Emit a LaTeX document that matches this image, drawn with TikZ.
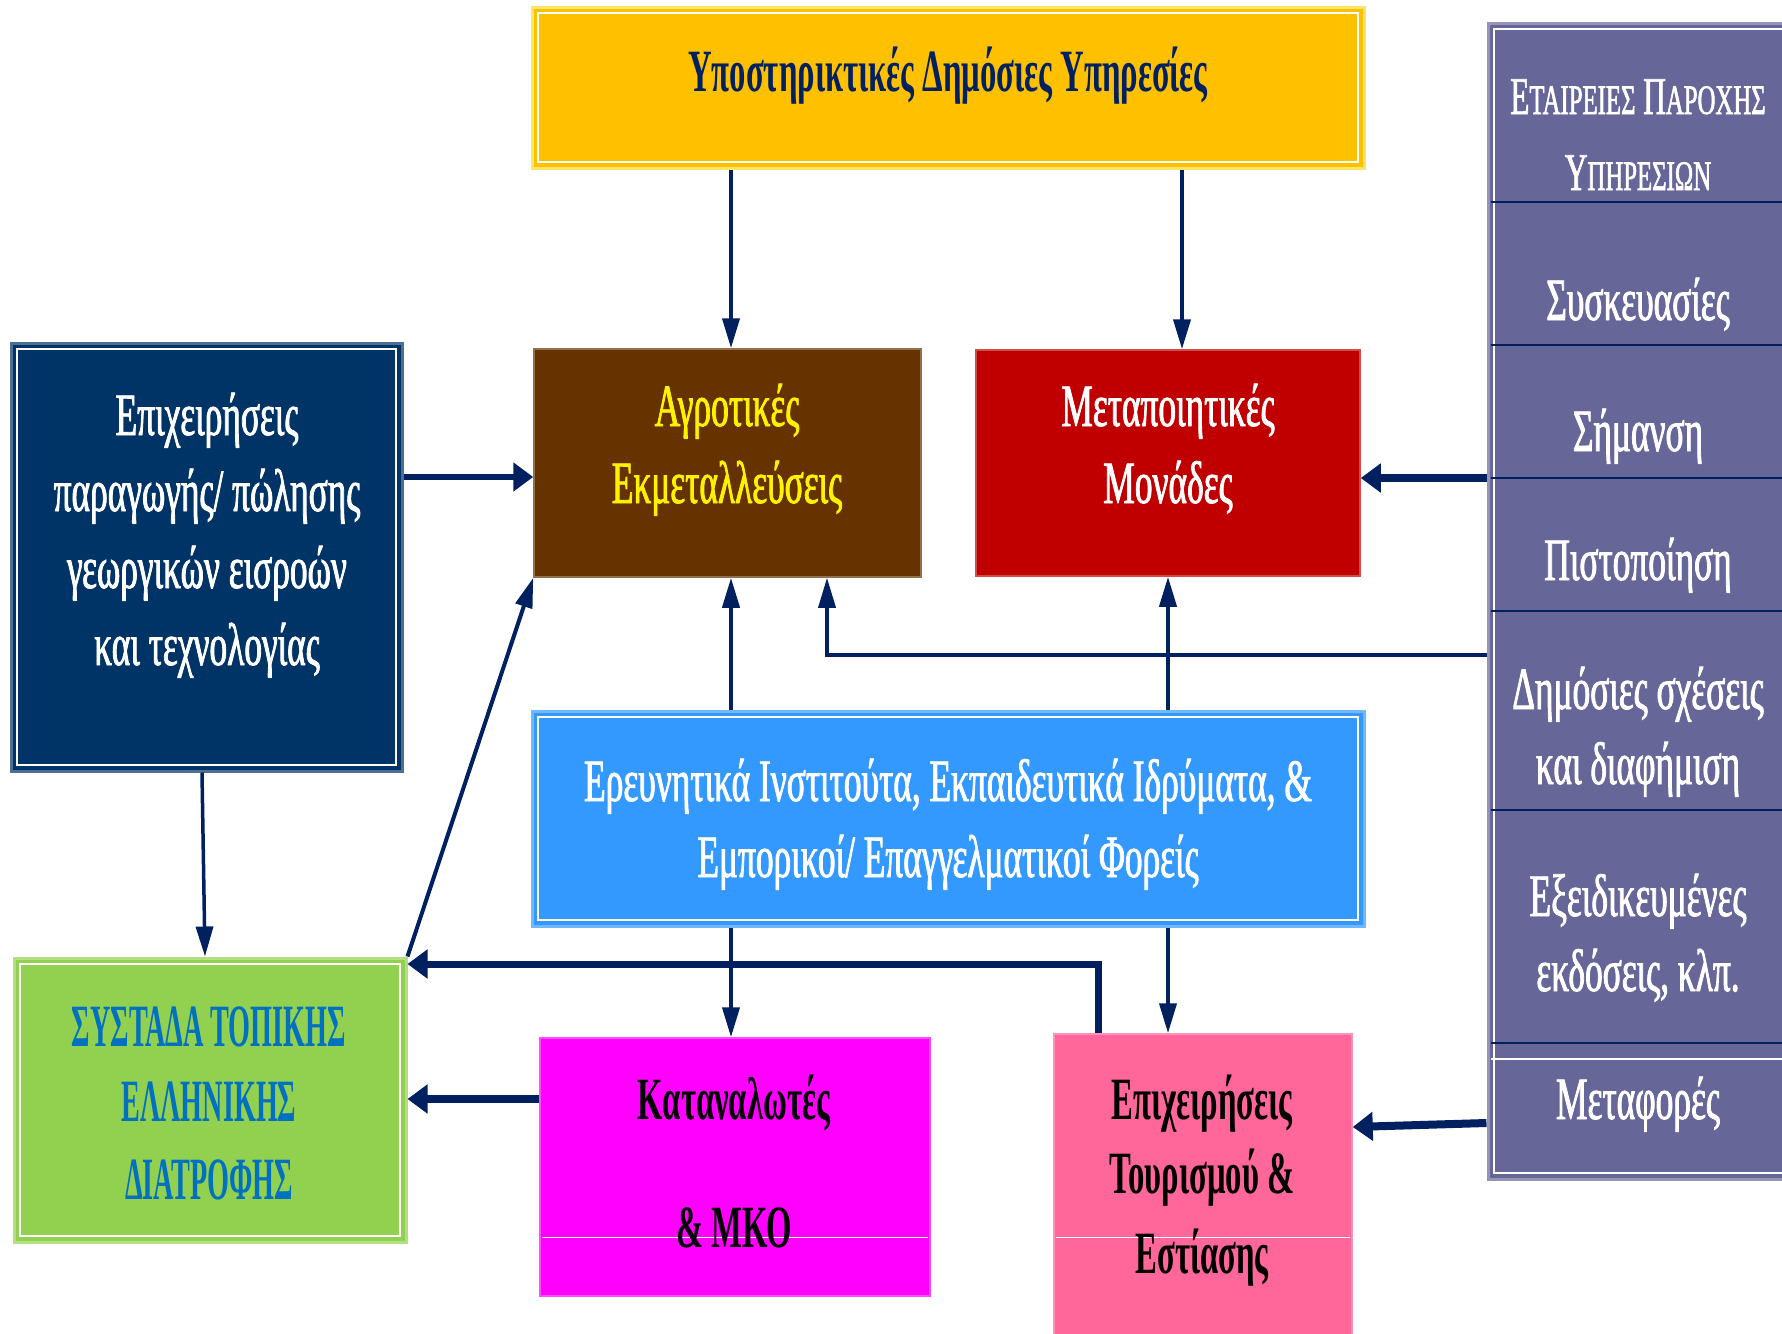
\documentclass[tikz,border=0pt]{standalone}
\usepackage{fontspec}
\setmainfont{Liberation Serif}[FakeStretch=0.59]
\newfontfamily\regf{Liberation Serif}[FakeStretch=0.59, FakeBold=1.3]
\newfontfamily\boldf{Liberation Serif}[FakeStretch=0.545]
\newfontfamily\greenf{Liberation Serif}[FakeStretch=0.47]
\usetikzlibrary{arrows.meta}
\definecolor{arrowc}{HTML}{002060}
\definecolor{yelc}{HTML}{FFC000}
\definecolor{navyc}{HTML}{003366}
\definecolor{brownc}{HTML}{663300}
\definecolor{redc}{HTML}{C00000}
\definecolor{purplec}{HTML}{666699}
\definecolor{bluec}{HTML}{3399FF}
\definecolor{greenc}{HTML}{92D050}
\definecolor{greentxt}{HTML}{0070C0}
\definecolor{magc}{HTML}{FF00FF}
\definecolor{pinkc}{HTML}{FF6699}
\begin{document}
\begin{tikzpicture}[x=1pt,y=-1pt,
  box/.style={rectangle, inner sep=0pt, line width=1.5pt},
  dblbox/.style={box, line width=3pt,
    path picture={\draw[white, line width=2pt]
      ([xshift=6pt,yshift=-6pt]path picture bounding box.north west) rectangle
      ([xshift=-6pt,yshift=6pt]path picture bounding box.south east);}},
  txt/.style={anchor=base, inner sep=0pt, font=\regf\fontsize{60}{72}\selectfont},
  btxt/.style={txt, font=\boldf\fontsize{60}{72}\selectfont\bfseries},
  gtxt/.style={txt, font=\greenf\fontsize{60}{72}\selectfont\bfseries},
  thinarr/.style={draw=arrowc, line width=4pt, -{Triangle[length=30pt,width=17pt]}},
  thickarr/.style={draw=arrowc, line width=8pt, -{Triangle[length=20pt,width=28pt]}},
  divline/.style={draw=arrowc, line width=2.5pt},
  whiteline/.style={draw=white, line width=1pt},
]
\useasboundingbox (0,0) rectangle (1782,1333);
\fill[white] (0,0) rectangle (1782,1333);

% boxes
\node[dblbox, fill=yelc, draw=yelc!70!yellow!60!white, minimum width=832pt, minimum height=161pt] (yel) at (948,87.5) {};
\node[dblbox, fill=navyc, draw=navyc!70!white, minimum width=391pt, minimum height=428pt] (navy) at (206.5,557) {};
\node[box, fill=brownc, draw=brownc!70!white, minimum width=387pt, minimum height=228pt] (brown) at (727.5,463) {};
\node[box, fill=redc, draw=redc!70!white, minimum width=384pt, minimum height=226pt] (red) at (1168,463) {};
\node[dblbox, fill=purplec, draw=purplec!70!white, minimum width=312pt, minimum height=1156pt] (purple) at (1644,601) {};
\node[dblbox, fill=bluec, draw=bluec!70!white, minimum width=832pt, minimum height=215pt] (blue) at (948,818.5) {};
\node[dblbox, fill=greenc, draw=greenc!70!white, minimum width=392pt, minimum height=284pt] (green) at (210,1100) {};
\node[box, fill=magc, draw=magc!70!white, minimum width=390pt, minimum height=258pt] (mag) at (735,1167) {};
\node[box, fill=pinkc, draw=pinkc!70!white, minimum width=298pt, minimum height=310pt] (pink) at (1203,1189) {};

% purple dividers
\foreach \yy in {202,345,478,611,810,1043}
  \draw[divline] (purple.west |- 0,\yy) ++(4,0) -- (1782,\yy);
\draw[whiteline, line width=1.5pt] (purple.west |- 0,1059) ++(4,0) -- (1782,1059);
\draw[whiteline] (mag.west |- 0,1237) ++(3,0) -- ([xshift=-3pt]mag.east |- 0,1237);
\draw[whiteline] (pink.west |- 0,1237) ++(3,0) -- ([xshift=-3pt]pink.east |- 0,1237);

% texts
\node[btxt, text=arrowc] (t-yel) at (948,91) {Υποστηρικτικές Δημόσιες Υπηρεσίες};
\node[txt, text=yellow] (t-br1) at (727,426) {Αγροτικές};
\node[txt, text=yellow] (t-br2) at (727,503) {Εκμεταλλεύσεις};
\node[txt, text=white] (t-red1) at (1168,426) {Μεταποιητικές};
\node[txt, text=white] (t-red2) at (1168,503) {Μονάδες};
\node[txt, text=white] (t-nv1) at (207,435) {Επιχειρήσεις};
\node[txt, text=white] (t-nv2) at (207,511) {παραγωγής/ πώλησης};
\node[txt, text=white] (t-nv3) at (207,588) {γεωργικών εισροών};
\node[txt, text=white] (t-nv4) at (207,665) {και τεχνολογίας};
\node[txt, text=white] (t-bl1) at (948,801) {Ερευνητικά Ινστιτούτα, Εκπαιδευτικά Ιδρύματα, \&};
\node[txt, text=white] (t-bl2) at (948,877) {Εμπορικοί/ Επαγγελματικοί Φορείς};
\node[gtxt, text=greentxt] (t-gr1) at (209,1046) {ΣΥΣΤΑΔΑ ΤΟΠΙΚΗΣ};
\node[gtxt, text=greentxt] (t-gr2) at (209,1121) {ΕΛΛΗΝΙΚΗΣ};
\node[gtxt, text=greentxt] (t-gr3) at (209,1199) {ΔΙΑΤΡΟΦΗΣ};
\node[btxt, text=black] (t-mg1) at (734,1119) {Καταναλωτές};
\node[btxt, text=black] (t-mg2) at (734,1247) {\& ΜΚΟ};
\node[btxt, text=black] (t-pk1) at (1202,1119) {Επιχειρήσεις};
\node[btxt, text=black] (t-pk2) at (1202,1193) {Τουρισμού \&};
\node[btxt, text=black] (t-pk3) at (1202,1273) {Εστίασης};
\node[txt, text=white, font=\regf\fontsize{53}{60}\selectfont] (t-pu0) at (1638,114)
  {Ε{\fontsize{42}{50}\selectfont ΤΑΙΡΕΙΕΣ} Π{\fontsize{42}{50}\selectfont ΑΡΟΧΗΣ}};
\node[txt, text=white, font=\regf\fontsize{53}{60}\selectfont] (t-pu0b) at (1638,190)
  {Υ{\fontsize{42}{50}\selectfont ΠΗΡΕΣΙΩΝ}};
\node[txt, text=white] (t-pu1) at (1638,320) {Συσκευασίες};
\node[txt, text=white] (t-pu2) at (1638,451) {Σήμανση};
\node[txt, text=white] (t-pu3) at (1638,580) {Πιστοποίηση};
\node[txt, text=white] (t-pu4) at (1638,709) {Δημόσιες σχέσεις};
\node[txt, text=white] (t-pu5) at (1638,784) {και διαφήμιση};
\node[txt, text=white] (t-pu6) at (1638,916) {Εξειδικευμένες};
\node[txt, text=white] (t-pu7) at (1638,991) {εκδόσεις, κλπ.};
\node[txt, text=white] (t-pu8) at (1638,1119) {Μεταφορές};

% connectors
\draw[thinarr] (yel.south -| 731,0) -- (brown.north -| 731,0);
\draw[thinarr] (yel.south -| 1182,0) -- (red.north -| 1182,0);
\draw[thickarr, line width=6pt] (navy.east |- 0,477) -- (brown.west |- 0,477);
\draw[thickarr] (purple.west |- 0,478) -- (red.east |- 0,478);
\draw[thinarr, line width=3.5pt] (purple.west |- 0,655) -| (brown.south -| 827,0);
\draw[thinarr] (blue.north -| 731,0) -- (brown.south -| 731,0);
\draw[thinarr] (blue.north -| 1168,0) -- (red.south -| 1168,0);
\draw[thinarr] (blue.south -| 731,0) -- (mag.north -| 731,0);
\draw[thinarr] (blue.south -| 1168,0) -- (pink.north -| 1168,0);
\draw[thinarr, line width=3.5pt] (navy.south -| 202,0) -- (green.north -| 205,0);
\draw[thinarr] (green.north east) -- (brown.south west);
\draw[thickarr, line width=7pt] (pink.north -| 1098,0) |- (green.east |- 0,964);
\draw[thickarr] (mag.west |- 0,1099) -- (green.east |- 0,1099);
\draw[thickarr] (purple.west |- 0,1123) -- (pink.east |- 0,1127);
\end{tikzpicture}
\end{document}
